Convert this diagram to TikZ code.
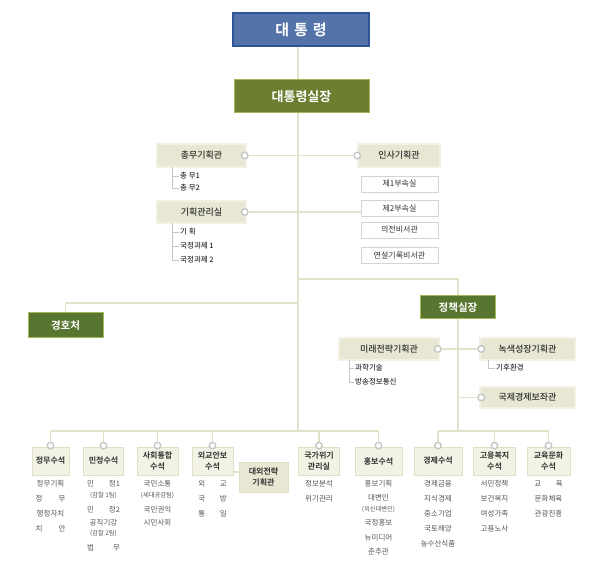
\documentclass[tikz,border=0pt]{standalone}
\usepackage{fontspec}
\setmainfont{Noto Sans CJK KR}[BoldFont=* Bold]
\newfontfamily\medfont{Noto Sans CJK KR Medium}
\usepackage{tikz}

\pgfdeclarelayer{bg}
\pgfsetlayers{bg,main}

\definecolor{linecol}{HTML}{E3E3CB}
\definecolor{beige}{HTML}{E7E7D3}
\definecolor{beigeline}{HTML}{F1F1E4}
\definecolor{tabfill}{HTML}{F3F3E5}
\definecolor{tabline}{HTML}{E0E0C6}
\definecolor{presblue}{HTML}{5373A9}
\definecolor{presline}{HTML}{2F5597}
\definecolor{chiefgreen}{HTML}{6C7E2F}
\definecolor{chiefline}{HTML}{A4B85A}
\definecolor{darkgreen}{HTML}{587630}
\definecolor{dotgray}{HTML}{C6C6C6}
\definecolor{txt}{HTML}{333333}
\definecolor{itemtxt}{HTML}{555555}

\tikzset{
  conn/.style={draw=linecol, line width=1.3pt},
  brk/.style={draw=dotgray, line width=0.6pt},
  dot/.style={circle, draw=dotgray, line width=1.4pt, fill=white, minimum size=6.5pt, inner sep=0pt},
  presbox/.style={rectangle, fill=presblue, draw=presline, line width=1.2pt, text=white,
    font=\bfseries\fontsize{15}{18}\selectfont, minimum width=136pt, minimum height=33pt, inner sep=0pt},
  greenbox/.style={rectangle, fill=chiefgreen, draw=chiefline, line width=1pt, text=white,
    font=\bfseries\fontsize{10.5}{13}\selectfont, inner sep=0pt},
  titlebox/.style={rectangle, fill=beige, draw=beigeline, line width=1.5pt, text=txt,
    font=\medfont\fontsize{9}{11}\selectfont, minimum height=23pt, inner sep=0pt},
  whitebox/.style={rectangle, fill=white, draw=black!17, line width=0.8pt, text=txt,
    font=\fontsize{8}{10}\selectfont, minimum width=77pt, minimum height=16pt, inner sep=0pt},
  tab/.style={rectangle, fill=tabfill, draw=tabline, line width=0.8pt, text=txt, align=center,
    font=\bfseries\fontsize{8}{11}\selectfont, minimum height=28pt, inner sep=0pt},
  sub/.style={anchor=west, inner sep=1pt, text=txt, font=\medfont\fontsize{7.5}{9}\selectfont},
  items/.style={anchor=north, inner sep=0pt, text=itemtxt, align=center, font=\fontsize{7.5}{15}\selectfont}
}

\newcommand{\spr}[3][4em]{\makebox[#1][s]{#2\hfill#3}}
\newcommand{\sm}[1]{{\fontsize{6.3}{15}\selectfont #1}}

\begin{document}
\begin{tikzpicture}[x=1pt,y=-1pt]
\useasboundingbox (0,0) rectangle (600,577);

% top
\node[presbox] (pres) at (301,29.5) {대\hspace{5pt}통\hspace{5pt}령};
\node[greenbox, minimum width=135pt, minimum height=33pt, font=\bfseries\fontsize{13}{15}\selectfont] (chief) at (301.5,96.5) {대통령실장};

% secretariat
\node[titlebox, minimum width=89pt] (chongmu) at (201.5,155.5) {총무기획관};
\node[titlebox, minimum width=89pt, minimum height=22pt] (gihoek) at (201.5,212) {기획관리실};
\node[titlebox, minimum width=82pt] (insa) at (399,155.5) {인사기획관};
\node[whitebox] (bu1) at (399.5,184) {제1부속실};
\node[whitebox] (bu2) at (399.5,208.5) {제2부속실};
\node[whitebox] (uijeon) at (399.5,230) {의전비서관};
\node[whitebox] (yeonseol) at (399.5,255.5) {연설기록비서관};

\node[sub] (cm1) at (179,176) {총 무1};
\node[sub] (cm2) at (179,188) {총 무2};
\node[sub] (gh1) at (179,232) {기 획};
\node[sub] (gh2) at (179,246) {국정과제 1};
\node[sub] (gh3) at (179,260) {국정과제 2};

% security and policy
\node[greenbox, fill=darkgreen, minimum width=75pt, minimum height=25pt] (gyeongho) at (65.5,325.5) {경호처};
\node[greenbox, fill=darkgreen, minimum width=75pt, minimum height=23pt] (policy) at (458,307.5) {정책실장};
\node[titlebox, minimum width=100pt, minimum height=22pt] (mirae) at (389,349) {미래전략기획관};
\node[titlebox, minimum width=95pt, minimum height=22pt] (noksaek) at (527.5,349) {녹색성장기획관};
\node[titlebox, minimum width=95pt, minimum height=21pt] (gukje) at (527.5,397.5) {국제경제보좌관};
\node[sub] (mr1) at (354,368) {과학기술};
\node[sub] (mr2) at (354,382) {방송정보통신};
\node[sub] (ns1) at (495,368) {기후환경};

% senior secretaries
\node[tab, minimum width=37pt] (jm) at (50.5,461) {정무수석};
\node[tab, minimum width=40pt] (mj) at (103.5,461) {민정수석};
\node[tab, minimum width=41pt] (sh) at (157.5,461) {사회통합\\수석};
\node[tab, minimum width=41pt] (og) at (212.5,461) {외교안보\\수석};
\node[tab, minimum width=49pt, minimum height=30pt, fill=beige, draw=tabline] (de) at (263.5,477) {대외전략\\기획관};
\node[tab, minimum width=41pt] (gw) at (319,461) {국가위기\\관리실};
\node[tab, minimum width=47pt] (hb) at (378.5,461) {홍보수석};
\node[tab, minimum width=48pt] (ec) at (438,461) {경제수석};
\node[tab, minimum width=42pt] (gy) at (494.5,461) {고용복지\\수석};
\node[tab, minimum width=43pt] (ed) at (548.5,461) {교육문화\\수석};

\node[items] (jmL) at (50.5,480) {정무기획\\\spr{정}{무}\\행정자치\\\spr{치}{안}};
\node[items] (mjL) at (103.5,480) {\spr[4.4em]{민}{정1}\\[-4pt]\sm{(감찰 1팀)}\\\spr[4.4em]{민}{정2}\\[-2pt]공직기강\\[-5pt]\sm{(감찰 2팀)}\\\spr[4.4em]{법}{무}};
\node[items] (shL) at (157.5,480) {국민소통\\[-4pt]\sm{(세대공감팀)}\\국민권익\\[-2pt]시민사회};
\node[items] (ogL) at (212.5,480) {\spr[3.8em]{외}{교}\\\spr[3.8em]{국}{방}\\\spr[3.8em]{통}{일}};
\node[items] (gwL) at (319,480) {정보분석\\위기관리};
\node[items] (hbL) at (378.5,480) {홍보기획\\[-1pt]대변인\\[-4pt]\sm{(외신대변인)}\\[-1pt]국정홍보\\뉴미디어\\[-1pt]춘추관};
\node[items] (ecL) at (438,480) {경제금융\\지식경제\\중소기업\\국토해양\\농수산식품};
\node[items] (gyL) at (494.5,480) {서민정책\\보건복지\\여성가족\\고용노사};
\node[items] (edL) at (548.5,480) {\spr[3.8em]{교}{육}\\문화체육\\관광진흥};

% dots
\node[dot] (cmd) at ([xshift=-2pt]chongmu.east) {};
\node[dot] (ghd) at ([xshift=-2pt]gihoek.east) {};
\node[dot] (isd) at (insa.west) {};
\node[dot] (mrd) at ([xshift=-2pt]mirae.east) {};
\node[dot] (nsd) at ([xshift=2pt]noksaek.west) {};
\node[dot] (gkd) at ([xshift=2pt]gukje.west) {};
\foreach \n in {jm,mj,sh,og,gw,hb,ec,gy,ed}
  \node[dot] (dot\n) at ([yshift=1pt]\n.north) {};

\coordinate (top) at (298,46);
\coordinate (foot) at (298,431);
\coordinate (pj) at (298,279);
\coordinate (gj) at (298,303);
\coordinate (cmB) at (172,167);
\coordinate (ghB) at (172,223);
\coordinate (mrB) at (349,360);
\coordinate (nsB) at (488,360);

\begin{pgfonlayer}{bg}
\draw[conn] (top) -- (foot);
\draw[conn] (cmd) -- (isd);
\draw[conn] (ghd) -- (ghd -| bu2.west);
\draw[conn] (pj) -| (policy.north);
\draw[conn] (gj) -| (gyeongho.north);
\draw[conn] (policy.south) -- (policy.south |- foot);
\draw[conn] (mrd) -- (nsd);
\draw[conn] (gkd) -- (gkd -| policy.south);
\draw[conn] ([yshift=5pt]de.west) -- ([yshift=5pt]de.west -| og.east);
\foreach \n in {jm,mj,sh,og,gw,hb,ec,gy,ed}
  \draw[conn] (dot\n) -- (dot\n |- foot);
\draw[conn] (dotjm |- foot) -- (dothb |- foot);
\draw[conn] (dotec |- foot) -- (doted |- foot);
\end{pgfonlayer}

% brackets
\draw[brk] (cmB) |- (cm1.west);
\draw[brk] (cmB) |- (cm2.west);
\draw[brk] (ghB) |- (gh1.west);
\draw[brk] (ghB) |- (gh2.west);
\draw[brk] (ghB) |- (gh3.west);
\draw[brk] (mrB) |- (mr1.west);
\draw[brk] (mrB) |- (mr2.west);
\draw[brk] (nsB) |- (ns1.west);

\end{tikzpicture}
\end{document}
